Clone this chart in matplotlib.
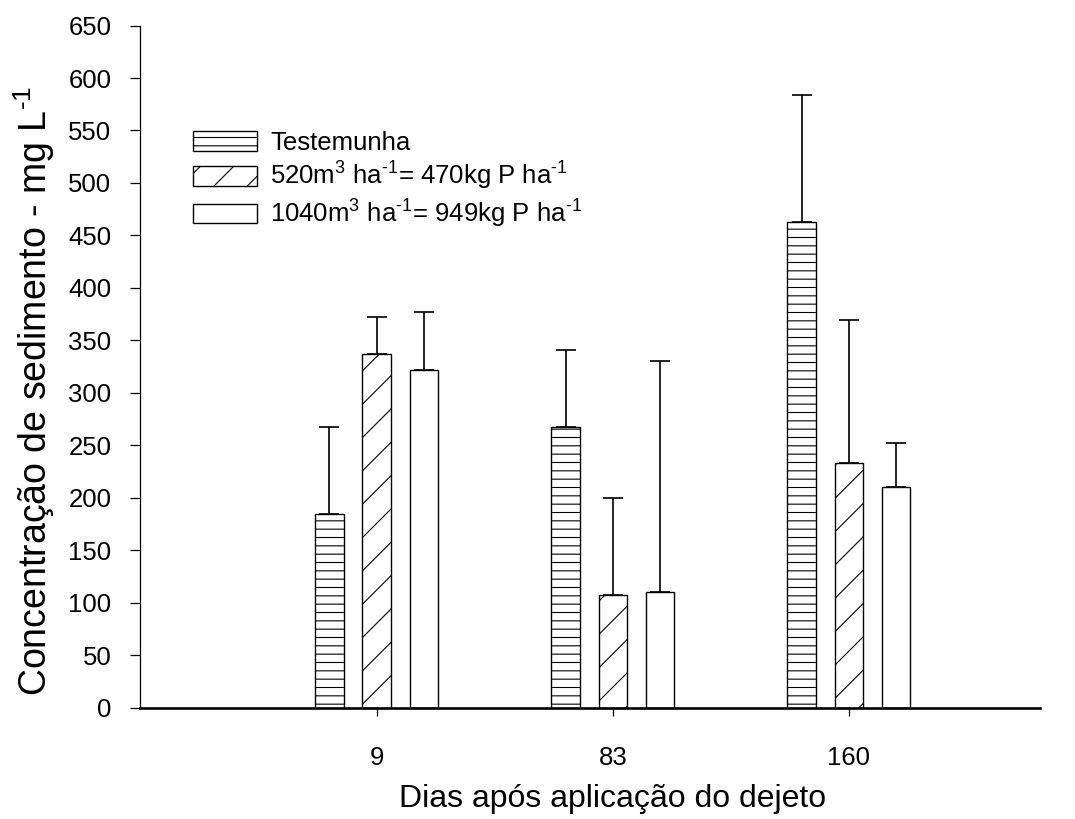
import numpy as np
import matplotlib
matplotlib.use('Agg')
import matplotlib.pyplot as plt

plt.rcParams['font.family'] = ['Liberation Sans', 'DejaVu Sans']
plt.rcParams['mathtext.fontset'] = 'custom'
plt.rcParams['mathtext.rm'] = 'Liberation Sans'
plt.rcParams['mathtext.it'] = 'Liberation Sans:italic'
plt.rcParams['mathtext.default'] = 'regular'
plt.rcParams['hatch.linewidth'] = 0.8

# sediment concentration (mg/L) per sampling day, with upper error
days = ['9', '83', '160']
series = ['Testemunha',
          '520m$^3$ ha$^{\u20101}$= 470kg P ha$^{\u20101}$',
          '1040m$^3$ ha$^{\u20101}$= 949kg P ha$^{\u20101}$']
testemunha = [184, 267, 463]
dose_520 = [337, 107, 233]
dose_1040 = [322, 110, 210]
err_testemunha = [83, 74, 121]
err_520 = [35, 93, 136]
err_1040 = [55, 220, 42]

values = [testemunha, dose_520, dose_1040]
errors = [err_testemunha, err_520, err_1040]
hatches = ['--', '/', '']

fig = plt.figure(figsize=(10.75, 8.19), dpi=100)
ax = fig.add_axes([0.1302, 0.1361, 0.8372, 0.8327])

x = np.arange(len(days))
width = 0.121
offsets = [-0.2, 0.0, 0.2]

for vals, errs, h, off, lab in zip(values, errors, hatches, offsets, series):
    ax.bar(x + off, vals, width, color='white', edgecolor='black',
           linewidth=1.0, hatch=h, label=lab, zorder=2)
    ax.errorbar(x + off, vals, yerr=[np.zeros(len(errs)), errs], fmt='none',
                ecolor='black', elinewidth=1.2, capsize=7.5, capthick=1.2,
                zorder=1)

ax.set_xlim(-1.0025, 2.809)
ax.set_ylim(0, 650)
ax.set_yticks(np.arange(0, 651, 50))
ax.set_xticks(x)
ax.set_xticklabels(days)

for side in ['top', 'right']:
    ax.spines[side].set_visible(False)
ax.spines['left'].set_linewidth(0.9)
ax.spines['bottom'].set_linewidth(1.9)
ax.tick_params(axis='y', direction='out', length=7.5, width=0.9,
               labelsize=18.5, pad=13)
ax.tick_params(axis='x', direction='out', length=6, width=0.9,
               labelsize=18.5, pad=22)

ax.set_xlabel('Dias após aplicação do dejeto', fontsize=23, labelpad=10)
ax.xaxis.label.set_x(0.525)
ax.set_ylabel('Concentração de sedimento - mg L$^{\u20101}$', fontsize=27,
              labelpad=8)
ax.yaxis.label.set_y(0.464)

ax.legend(loc='upper left', bbox_to_anchor=(193 / 1075, 1 - 131 / 819),
          bbox_transform=fig.transFigure, frameon=False, fontsize=18.5,
          handlelength=2.5, handleheight=0.8, handletextpad=0.5,
          labelspacing=0.2, borderpad=0, borderaxespad=0)

fig.savefig('out.png', dpi=100)
